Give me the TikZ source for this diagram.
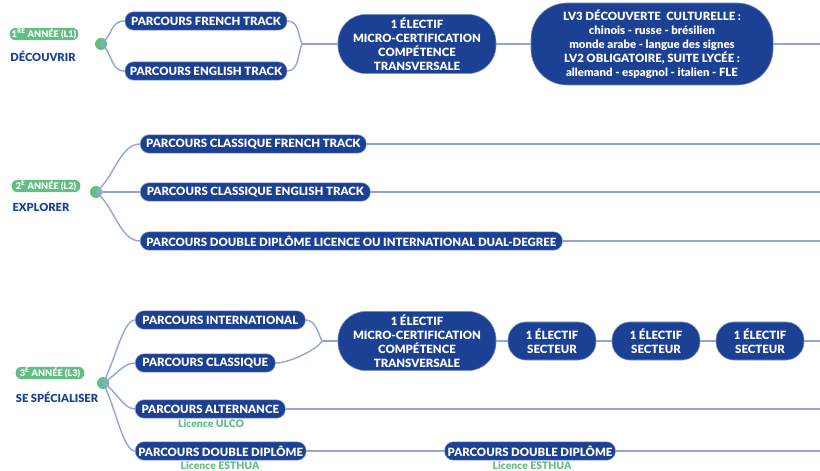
\documentclass[tikz,border=0pt]{standalone}
\usepackage{fontspec}
\setmainfont{Lato}[BoldFont={Lato Black}]
\usepackage{xcolor}
\usetikzlibrary{positioning}
\definecolor{navy}{RGB}{28,64,148}
\definecolor{leaf}{RGB}{98,190,130}
\definecolor{link}{RGB}{145,165,215}

\begin{document}
\begin{tikzpicture}[x=0.025cm, y=-0.025cm,
    parcours/.style={fill=navy, draw=navy!55!white, line width=0.4pt, text=white,
      font=\bfseries\fontsize{8.1}{10}\selectfont, rounded corners=0.22cm,
      minimum height=0.46cm, inner sep=0pt, align=center},
    bulle/.style={parcours, rounded corners=0.7cm},
    annee/.style={fill=leaf, text=white, font=\bfseries\fontsize{6.5}{7}\selectfont,
      rounded corners=0.15cm, minimum height=0.31cm, minimum width=1.72cm, inner sep=0pt},
    etape/.style={text=navy, font=\bfseries\fontsize{7.9}{9}\selectfont},
    licence/.style={text=leaf, font=\bfseries\fontsize{7.4}{8}\selectfont},
    point/.style={circle, fill=leaf, minimum size=0.3cm, inner sep=0pt},
    lien/.style={draw=link, line width=1pt}]
  \useasboundingbox (0,0) rectangle (820,471);

  % L1 : decouvrir
  \node[annee] (a1) at (44,34) {1\textsuperscript{RE} ANNÉE (L1)};
  \node[etape] (d1) at (43,56) {DÉCOUVRIR};
  \node[point] (p1) at (101,44) {};
  \node[parcours, minimum width=4.05cm] (fr) at (206,21) {PARCOURS FRENCH TRACK};
  \node[parcours, minimum width=4.05cm] (en) at (206,71) {PARCOURS ENGLISH TRACK};
  \node[bulle, minimum width=3.95cm, minimum height=1.48cm] (mc1) at (417,44)
    {1 ÉLECTIF\\MICRO-CERTIFICATION\\COMPÉTENCE\\TRANSVERSALE};
  \node[bulle, rounded corners=0.9cm, minimum width=6.05cm, minimum height=2.05cm] (lv) at (652,44)
    {LV3 DÉCOUVERTE \ CULTURELLE :\\chinois - russe - brésilien\\monde arabe - langue des signes\\LV2 OBLIGATOIRE, SUITE LYCÉE :\\allemand - espagnol - italien - FLE};
  \coordinate (j1) at (302,44);
  \coordinate (e1) at (820,44);
  \draw[lien] (p1.center) .. controls +(12,-8) and +(-15,0) .. (fr.west);
  \draw[lien] (p1.center) .. controls +(12,8) and +(-15,0) .. (en.west);
  \draw[lien] (fr.east) .. controls +(12,0) and +(-4,-8) .. (j1);
  \draw[lien] (en.east) .. controls +(12,0) and +(-4,8) .. (j1);
  \draw[lien] (j1) -- (mc1.west);
  \draw[lien] (mc1.east) -- (lv.west);
  \draw[lien] (lv.east) -- (e1);

  % L2 : explorer
  \node[annee] (a2) at (46,186) {2\textsuperscript{E} ANNÉE (L2)};
  \node[etape] (d2) at (41,207) {EXPLORER};
  \node[point] (p2) at (96,192) {};
  \node[parcours, minimum width=5.65cm, anchor=west] (cf) at (140,144) {PARCOURS CLASSIQUE FRENCH TRACK};
  \node[parcours, minimum width=5.75cm, anchor=west] (ce) at (140,192) {PARCOURS CLASSIQUE ENGLISH TRACK};
  \node[parcours, minimum width=10.55cm, anchor=west] (dd) at (140,241)
    {PARCOURS DOUBLE DIPLÔME LICENCE OU INTERNATIONAL DUAL-DEGREE};
  \coordinate (e2) at (820,144);
  \coordinate (e3) at (820,192);
  \coordinate (e4) at (820,241);
  \draw[lien] (p2.center) .. controls +(18,-14) and +(-20,0) .. (cf.west);
  \draw[lien] (p2.center) -- (ce.west);
  \draw[lien] (p2.center) .. controls +(18,14) and +(-20,0) .. (dd.west);
  \draw[lien] (cf.east) -- (e2);
  \draw[lien] (ce.east) -- (e3);
  \draw[lien] (dd.east) -- (e4);

  % L3 : se specialiser
  \node[annee] (a3) at (50,373) {3\textsuperscript{E} ANNÉE (L3)};
  \node[etape] (d3) at (57,397) {SE SPÉCIALISER};
  \node[point] (p3) at (103,383) {};
  \node[parcours, minimum width=4.25cm, anchor=west] (pi) at (135,320) {PARCOURS INTERNATIONAL};
  \node[parcours, minimum width=3.5cm, anchor=west] (pc) at (135,363) {PARCOURS CLASSIQUE};
  \node[parcours, minimum width=3.75cm, anchor=west] (pa) at (135,409) {PARCOURS ALTERNANCE};
  \node[licence] (la) at (211,424) {Licence ULCO};
  \node[parcours, minimum width=4.27cm, anchor=west] (pd) at (135,451) {PARCOURS DOUBLE DIPLÔME};
  \node[licence] (ld) at (220,466) {Licence ESTHUA};
  \node[bulle, minimum width=3.95cm, minimum height=1.48cm] (mc3) at (417,341)
    {1 ÉLECTIF\\MICRO-CERTIFICATION\\COMPÉTENCE\\TRANSVERSALE};
  \node[bulle, rounded corners=0.45cm, minimum width=2.2cm, minimum height=0.95cm] (s1) at (552,341) {1 ÉLECTIF\\SECTEUR};
  \node[bulle, rounded corners=0.45cm, minimum width=2.2cm, minimum height=0.95cm] (s2) at (656,341) {1 ÉLECTIF\\SECTEUR};
  \node[bulle, rounded corners=0.45cm, minimum width=2.2cm, minimum height=0.95cm] (s3) at (760,341) {1 ÉLECTIF\\SECTEUR};
  \node[parcours, minimum width=4.27cm] (pd2) at (530,451) {PARCOURS DOUBLE DIPLÔME};
  \node[licence] (ld2) at (532,466) {Licence ESTHUA};
  \coordinate (j3) at (322,341);
  \coordinate (e5) at (820,341);
  \coordinate (e6) at (820,409);
  \coordinate (e7) at (820,451);
  \draw[lien] (p3.center) .. controls +(12,-22) and +(-12,0) .. (pi.west);
  \draw[lien] (p3.center) .. controls +(14,-8) and +(-12,0) .. (pc.west);
  \draw[lien] (p3.center) .. controls +(14,8) and +(-12,0) .. (pa.west);
  \draw[lien] (p3.center) .. controls +(12,22) and +(-12,0) .. (pd.west);
  \draw[lien] (pi.east) .. controls +(10,0) and +(-4,-8) .. (j3);
  \draw[lien] (pc.east) .. controls +(14,0) and +(-4,8) .. (j3);
  \draw[lien] (j3) -- (mc3.west);
  \draw[lien] (mc3.east) -- (s1.west);
  \draw[lien] (s1.east) -- (s2.west);
  \draw[lien] (s2.east) -- (s3.west);
  \draw[lien] (s3.east) -- (e5);
  \draw[lien] (pa.east) -- (e6);
  \draw[lien] (pd.east) -- (pd2.west);
  \draw[lien] (pd2.east) -- (e7);
\end{tikzpicture}
\end{document}
